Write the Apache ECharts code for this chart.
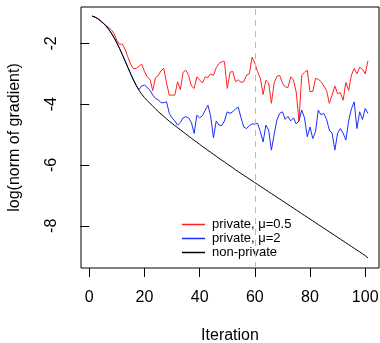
<!DOCTYPE html>
<html lang="en">
<head>
<meta charset="UTF-8">
<title>log(norm of gradient)</title>
<script src="https://cdn.jsdelivr.net/npm/echarts@6/dist/echarts.min.js"></script>
<style>
html, body { margin: 0; padding: 0; background: #fff; }
#main { width: 380px; height: 343px; }
</style>
</head>
<body>
<div id="main"></div>
<script>
// values, iterations 1..101
let iterations = Array.from({ length: 101 }, (_, i) => i + 1);

let privateMu05 = [
  -1.10, -1.13, -1.18, -1.24, -1.32, -1.40, -1.47, -1.55, -1.68, -1.90,
  -2.03, -2.02, -2.20, -2.45, -2.68, -2.83, -2.82, -2.75, -2.68, -2.92,
  -3.10, -3.18, -3.55, -3.12, -3.05, -2.90, -2.82, -3.30, -3.70, -3.70,
  -3.70, -3.26, -3.52, -2.95, -2.88, -3.05, -3.40, -3.48, -3.10, -3.20,
  -3.30, -3.10, -3.12, -3.00, -3.05, -2.80, -2.66, -2.60, -2.60, -3.48,
  -2.95, -2.92, -3.26, -3.20, -3.28, -3.26, -3.04, -3.00, -2.45, -2.65,
  -2.93, -3.15, -3.68, -3.21, -3.30, -3.97, -3.30, -3.08, -3.05, -3.30,
  -3.43, -3.45, -3.10, -3.20, -3.60, -4.55, -3.04, -2.95, -2.88, -3.59,
  -3.58, -3.15, -3.18, -3.26, -3.40, -3.55, -3.97, -3.70, -3.40, -3.65,
  -3.62, -3.87, -3.28, -3.55, -3.04, -2.82, -3.00, -2.78, -2.85, -3.00,
  -2.57
];

let privateMu2 = [
  -1.10, -1.13, -1.18, -1.25, -1.33, -1.42, -1.53, -1.66, -1.81, -1.98,
  -2.17, -2.37, -2.58, -2.79, -3.00, -3.20, -3.38, -3.52, -3.40, -3.37,
  -3.45, -3.54, -3.70, -3.81, -3.85, -3.95, -3.95, -3.92, -4.30, -4.45,
  -4.55, -4.69, -4.60, -4.45, -4.41, -4.45, -4.60, -4.96, -4.36, -4.45,
  -4.38, -4.20, -4.03, -4.40, -5.10, -4.55, -4.69, -4.70, -4.55, -4.25,
  -4.30, -4.25, -4.15, -4.10, -4.45, -4.75, -4.80, -4.70, -4.65, -4.65,
  -4.63, -4.90, -5.24, -4.69, -4.85, -5.51, -5.00, -4.52, -4.30, -4.25,
  -4.50, -4.40, -4.55, -4.45, -4.65, -4.55, -4.19, -4.45, -5.07, -4.75,
  -5.13, -4.90, -4.19, -4.35, -4.30, -4.50, -4.85, -4.95, -5.51, -4.95,
  -4.80, -4.95, -5.18, -4.55, -4.15, -3.92, -4.80, -4.25, -4.50, -4.14,
  -4.30
];

let nonPrivate = [
  -1.10, -1.13, -1.18, -1.25, -1.33, -1.42, -1.53, -1.66, -1.81, -1.98,
  -2.17, -2.37, -2.58, -2.79, -3.00, -3.20, -3.38, -3.54, -3.67, -3.78,
  -3.88, -3.97, -4.06, -4.15, -4.24, -4.32, -4.40, -4.48, -4.56, -4.63,
  -4.70, -4.77, -4.84, -4.91, -4.98, -5.05, -5.12, -5.19, -5.25, -5.32,
  -5.39, -5.45, -5.52, -5.58, -5.65, -5.71, -5.78, -5.84, -5.90, -5.97,
  -6.03, -6.09, -6.16, -6.22, -6.28, -6.34, -6.40, -6.46, -6.52, -6.58,
  -6.64, -6.70, -6.76, -6.82, -6.88, -6.94, -7.00, -7.06, -7.12, -7.18,
  -7.24, -7.30, -7.36, -7.42, -7.48, -7.54, -7.60, -7.66, -7.72, -7.78,
  -7.84, -7.90, -7.96, -8.02, -8.08, -8.14, -8.20, -8.26, -8.32, -8.38,
  -8.44, -8.50, -8.56, -8.62, -8.68, -8.74, -8.80, -8.86, -8.92, -8.98,
  -9.06
];

let xTicks = [0, 20, 40, 60, 80, 100];
let yTicks = [-8, -6, -4, -2];
let seriesNames = ['private, \u03bc=0.5', 'private, \u03bc=2', 'non-private'];
let markIteration = 60;

let font = 'Liberation Sans, Arial, Helvetica, sans-serif';

function pairs(values) {
  return values.map((v, i) => [iterations[i], v]);
}

let myChart = echarts.init(document.getElementById('main'), null, { renderer: 'canvas' });
let option = {
  animation: false,
  backgroundColor: '#fff',
  grid: {
    left: 81, top: 7, right: 1, bottom: 75,
    containLabel: false, outerBoundsMode: 'none',
    show: true, borderColor: '#000', borderWidth: 1, backgroundColor: 'transparent'
  },
  xAxis: {
    type: 'value', min: -3, max: 105,
    name: 'Iteration', nameLocation: 'middle', nameGap: 60,
    nameTextStyle: { color: '#000', fontSize: 16, fontFamily: font },
    axisLine: { show: false },
    axisTick: { show: true, inside: false, length: 9, customValues: xTicks, lineStyle: { color: '#000' } },
    axisLabel: { customValues: xTicks, margin: 22, color: '#000', fontSize: 16, fontFamily: font },
    splitLine: { show: false }
  },
  yAxis: {
    type: 'value', min: -9.39, max: -0.8,
    name: 'log(norm of gradient)', nameLocation: 'middle', nameGap: 58,
    nameTextStyle: { color: '#000', fontSize: 16, fontFamily: font },
    axisLine: { show: false },
    axisTick: { show: true, inside: false, length: 9, customValues: yTicks, lineStyle: { color: '#000' } },
    axisLabel: { customValues: yTicks, rotate: 90, margin: 21, color: '#000', fontSize: 16, fontFamily: font },
    splitLine: { show: false }
  },
  legend: {
    orient: 'vertical', left: 177, top: 213,
    itemWidth: 23, itemHeight: 1.5, itemGap: 1, icon: 'rect',
    textStyle: { color: '#000', fontSize: 13, fontFamily: font, padding: [0, 0, 0, 2] },
    data: seriesNames
  },
  series: [
    {
      name: seriesNames[0], type: 'line', data: pairs(privateMu05), symbol: 'none',
      lineStyle: { color: '#ff2222', width: 1 }, itemStyle: { color: '#ff2222' },
      markLine: {
        silent: true, symbol: 'none', label: { show: false },
        lineStyle: { color: '#bbbbbb', type: [6, 5], width: 1 },
        data: [{ xAxis: markIteration }]
      }
    },
    {
      name: seriesNames[1], type: 'line', data: pairs(privateMu2), symbol: 'none',
      lineStyle: { color: '#1a2eff', width: 1 }, itemStyle: { color: '#1a2eff' }
    },
    {
      name: seriesNames[2], type: 'line', data: pairs(nonPrivate), symbol: 'none',
      lineStyle: { color: '#000000', width: 1 }, itemStyle: { color: '#000000' }
    }
  ]
};
option && myChart.setOption(option);
</script>
</body>
</html>
